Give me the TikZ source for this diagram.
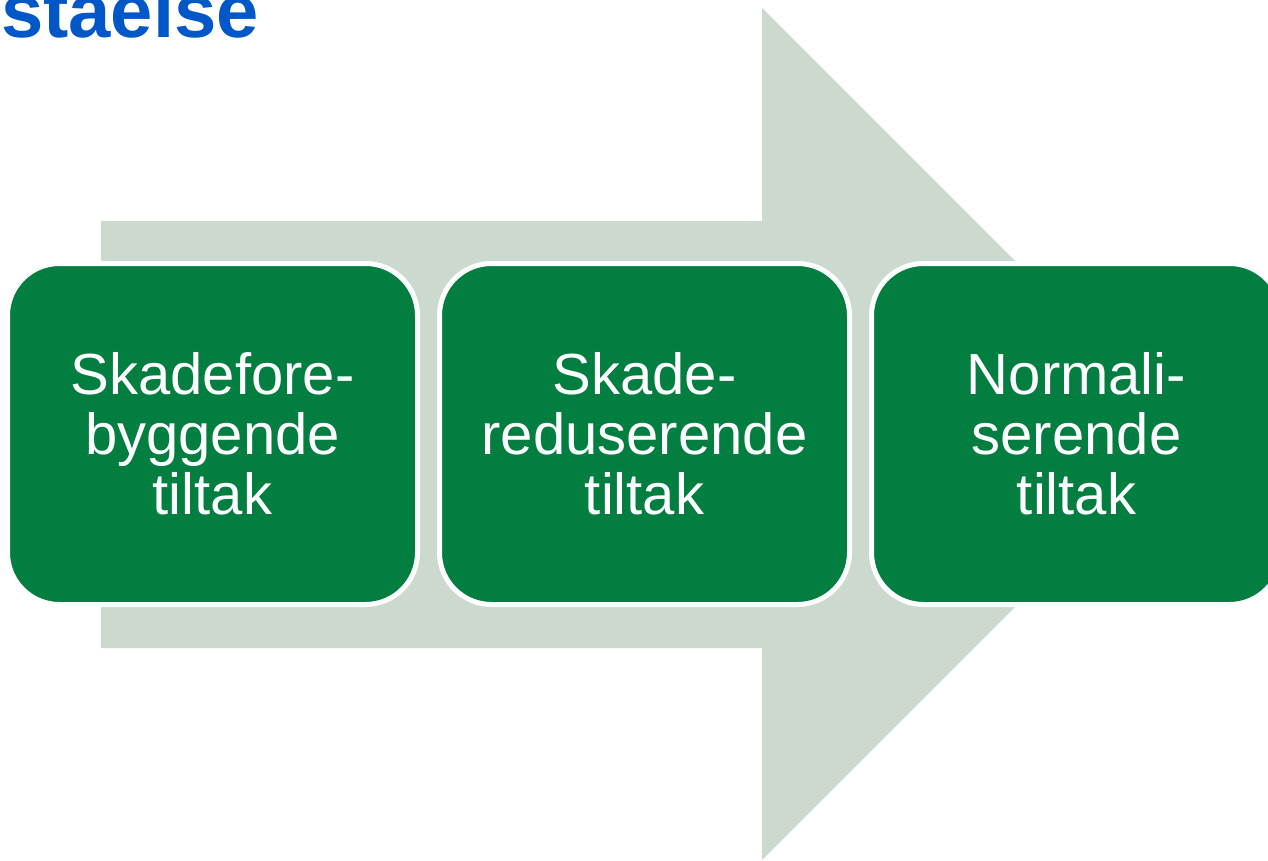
\documentclass[tikz,border=0pt]{standalone}
\usepackage{tikz, xcolor, fontspec}
\setmainfont{Liberation Sans}
\usetikzlibrary{positioning}
\definecolor{arrowgrey}{HTML}{CBD9CF}
\definecolor{boxgreen}{HTML}{027F40}
\definecolor{titleblue}{HTML}{0057C8}
\tikzstyle{measure} = [rectangle, rounded corners = 52pt, text centered, align = center, minimum width = 410pt, minimum height = 341pt, fill = boxgreen, draw = white, line width = 5pt, text = white, font = \fontsize{58}{60}\selectfont]
\tikzstyle{heading} = [anchor = base east, inner sep = 0pt, text = titleblue, font = \fontsize{76}{80}\selectfont\bfseries]

\begin{document}
\begin{tikzpicture}[x = 1pt, y = -1pt, node distance = 432pt]
    \clip (0,0) rectangle (1268,860);
    \fill [arrowgrey] (101,221) -- (762,221) -- (762,8) -- (1188,434) -- (762,860) -- (762,648) -- (101,648) -- cycle;

    \node (title) [heading] at (259,37) {staelse};

    \node (prevent) [measure] at (212.5,434) {Skadefore-\\byggende\\tiltak};
    \node (reduce) [measure, right of = prevent] {Skade-\\reduserende\\tiltak};
    \node (normalise) [measure, right of = reduce] {Normali-\\serende\\tiltak};
\end{tikzpicture}
\end{document}
